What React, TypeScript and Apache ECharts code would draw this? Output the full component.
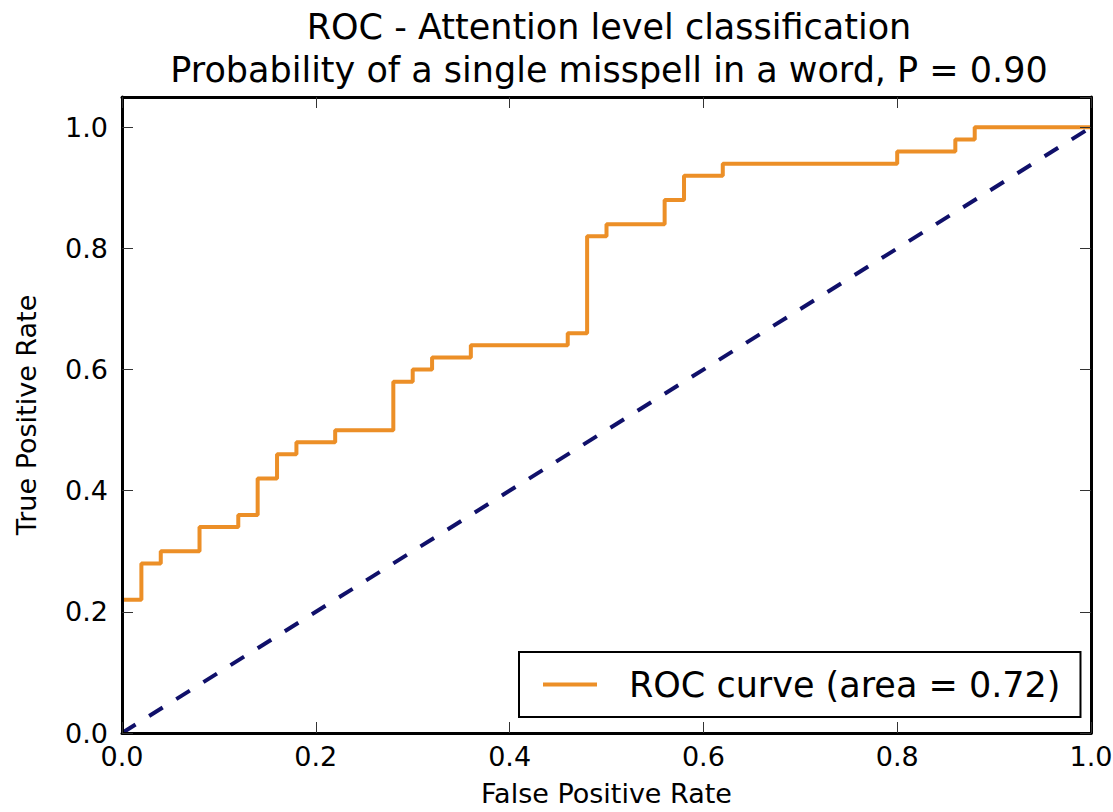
import React, { useEffect, useRef } from "react";
import * as echarts from "echarts";

// ROC curve corner points (false positive rate, true positive rate); the
// first vertical run along x = 0 lies under the axis frame in the reference
const fpr = [0.0, 0.02, 0.02, 0.04, 0.04, 0.08, 0.08, 0.12, 0.12, 0.14, 0.14, 0.16, 0.16, 0.18, 0.18, 0.22, 0.22, 0.28, 0.28, 0.3, 0.3, 0.32, 0.32, 0.36, 0.36, 0.46, 0.46, 0.48, 0.48, 0.5, 0.5, 0.56, 0.56, 0.58, 0.58, 0.62, 0.62, 0.8, 0.8, 0.86, 0.86, 0.88, 0.88, 1.0];
const tpr = [0.22, 0.22, 0.28, 0.28, 0.3, 0.3, 0.34, 0.34, 0.36, 0.36, 0.42, 0.42, 0.46, 0.46, 0.48, 0.48, 0.5, 0.5, 0.58, 0.58, 0.6, 0.6, 0.62, 0.62, 0.64, 0.64, 0.66, 0.66, 0.82, 0.82, 0.84, 0.84, 0.88, 0.88, 0.92, 0.92, 0.94, 0.94, 0.96, 0.96, 0.98, 0.98, 1.0, 1.0];

// chance diagonal
const chanceX = [0, 1];
const chanceY = [0, 1];

const rocName = "ROC curve (area = 0.72)";
const titleLines = ["ROC - Attention level classification", "Probability of a single misspell in a word, P = 0.90"];
const xAxisName = "False Positive Rate";
const yAxisName = "True Positive Rate";

const FONT = "DejaVu Sans";

export default function App() {
  const ref = useRef<HTMLDivElement>(null);

  useEffect(() => {
    if (!ref.current) return;
    const chart = echarts.init(ref.current, null, { renderer: "svg" });

    const axisLine = { show: true, onZero: false, lineStyle: { color: "#000", width: 3 } };
    const tick = { show: true, inside: true, length: 11, lineStyle: { color: "#333", width: 1 } };
    const fmt = (v: number) => v.toFixed(1);
    const labelStyle = { fontSize: 27, color: "#000", fontFamily: FONT };

    chart.setOption({
      animation: false,
      backgroundColor: "#fff",
      title: {
        text: titleLines.join("\n"),
        left: 604,
        top: 0,
        textAlign: "center",
        textStyle: { fontSize: 35, fontWeight: "normal", lineHeight: 43, color: "#000", fontFamily: FONT },
      },
      legend: {
        data: [{ name: rocName, icon: "rect" }],
        left: 519,
        top: 652,
        padding: [15, 20, 15, 24],
        itemWidth: 54,
        itemHeight: 4,
        borderColor: "#000",
        borderWidth: 2,
        borderRadius: 0,
        textStyle: { fontSize: 35, color: "#000", fontFamily: FONT, padding: [0, 0, 0, 27] },
      },
      grid: { left: 122, top: 97, right: 22, bottom: 79, show: false, outerBoundsMode: "none", containLabel: false },
      xAxis: [
        {
          type: "value",
          position: "bottom",
          min: 0,
          max: 1,
          interval: 0.2,
          z: 10,
          axisLine,
          axisTick: tick,
          splitLine: { show: false },
          axisLabel: { ...labelStyle, margin: 10, formatter: fmt },
          name: xAxisName,
          nameLocation: "middle",
          nameGap: 47,
          nameTextStyle: { fontSize: 27, color: "#000", fontFamily: FONT },
        },
        {
          type: "value",
          position: "top",
          min: 0,
          max: 1,
          interval: 0.2,
          z: 10,
          axisLine,
          axisTick: tick,
          splitLine: { show: false },
          axisLabel: { show: false },
        },
      ],
      yAxis: [
        {
          type: "value",
          position: "left",
          min: 0,
          max: 1.05,
          interval: 0.2,
          z: 10,
          axisLine,
          axisTick: tick,
          splitLine: { show: false },
          axisLabel: { ...labelStyle, margin: 14, formatter: fmt, showMaxLabel: false },
          name: yAxisName,
          nameLocation: "middle",
          nameGap: 82,
          nameTextStyle: { fontSize: 27, color: "#000", fontFamily: FONT },
        },
        {
          type: "value",
          position: "right",
          min: 0,
          max: 1.05,
          interval: 0.2,
          z: 10,
          axisLine,
          axisTick: tick,
          splitLine: { show: false },
          axisLabel: { show: false },
        },
      ],
      series: [
        {
          name: rocName,
          type: "line",
          xAxisIndex: 0,
          yAxisIndex: 0,
          data: fpr.map((x, i) => [x, tpr[i]]),
          showSymbol: false,
          symbol: "none",
          lineStyle: { color: "#EC8F27", width: 4 },
          itemStyle: { color: "#EC8F27" },
          z: 2,
        },
        {
          name: "chance",
          type: "line",
          xAxisIndex: 0,
          yAxisIndex: 0,
          data: chanceX.map((x, i) => [x, chanceY[i]]),
          showSymbol: false,
          symbol: "none",
          lineStyle: { color: "#10106a", width: 4, type: [16, 16] },
          itemStyle: { color: "#10106a" },
          z: 3,
        },
      ],
    });

    return () => chart.dispose();
  }, []);

  return (
    <div
      ref={ref}
      style={{ position: "absolute", left: 0, top: 0, width: 1113, height: 812, background: "#fff" }}
    />
  );
}
